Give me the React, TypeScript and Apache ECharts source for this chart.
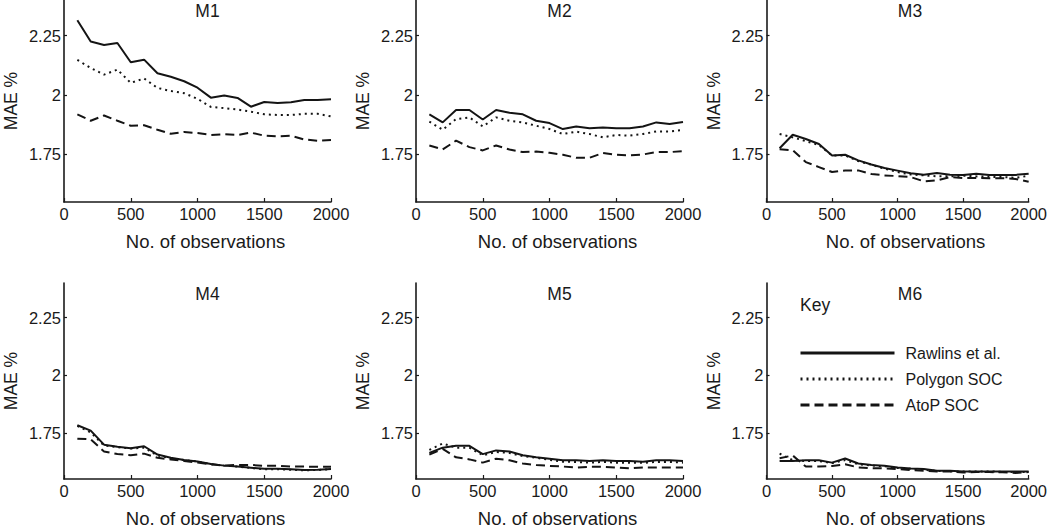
import React, { useEffect, useRef } from 'react';
import * as echarts from 'echarts';

// ---------- data ----------
const OBS = [100, 200, 300, 400, 500, 600, 700, 800, 900, 1000, 1100, 1200, 1300, 1400, 1500, 1600, 1700, 1800, 1900, 2000];
const PANELS = ['M1', 'M2', 'M3', 'M4', 'M5', 'M6'];
const SERIES_NAMES = ['Rawlins et al.', 'Polygon SOC', 'AtoP SOC'];
const Y_TICKS = [1.75, 2, 2.25];
const Y_MIN = 1.55;
const Y_MAX = 2.4;
const X_MIN = 0;
const X_MAX = 2000;
const X_STEP = 500;

const M1_RAWLINS = [2.315, 2.225, 2.211, 2.219, 2.138, 2.149, 2.092, 2.077, 2.058, 2.031, 1.989, 1.998, 1.988, 1.951, 1.971, 1.967, 1.970, 1.979, 1.979, 1.982];
const M1_POLYGON = [2.148, 2.114, 2.086, 2.107, 2.051, 2.070, 2.030, 2.017, 2.008, 1.984, 1.950, 1.945, 1.939, 1.930, 1.919, 1.916, 1.916, 1.921, 1.921, 1.910];
const M1_ATOP = [1.919, 1.892, 1.914, 1.892, 1.871, 1.873, 1.854, 1.837, 1.845, 1.840, 1.832, 1.835, 1.832, 1.842, 1.829, 1.826, 1.829, 1.813, 1.808, 1.811];

const M2_RAWLINS = [1.919, 1.885, 1.937, 1.937, 1.897, 1.937, 1.926, 1.919, 1.892, 1.882, 1.857, 1.868, 1.860, 1.864, 1.860, 1.860, 1.868, 1.885, 1.878, 1.887];
const M2_POLYGON = [1.888, 1.854, 1.899, 1.906, 1.868, 1.906, 1.892, 1.885, 1.871, 1.857, 1.836, 1.846, 1.836, 1.822, 1.832, 1.829, 1.836, 1.847, 1.847, 1.853];
const M2_ATOP = [1.788, 1.771, 1.808, 1.781, 1.767, 1.788, 1.771, 1.760, 1.762, 1.757, 1.749, 1.736, 1.736, 1.756, 1.749, 1.746, 1.750, 1.760, 1.760, 1.764];

const M3_RAWLINS = [1.776, 1.833, 1.815, 1.794, 1.746, 1.749, 1.725, 1.708, 1.693, 1.682, 1.671, 1.665, 1.672, 1.665, 1.664, 1.669, 1.664, 1.664, 1.664, 1.669];
const M3_POLYGON = [1.836, 1.822, 1.806, 1.790, 1.746, 1.746, 1.722, 1.707, 1.690, 1.676, 1.666, 1.662, 1.658, 1.658, 1.661, 1.658, 1.656, 1.655, 1.652, 1.660];
const M3_ATOP = [1.772, 1.768, 1.718, 1.697, 1.676, 1.683, 1.683, 1.668, 1.662, 1.659, 1.655, 1.637, 1.641, 1.655, 1.651, 1.651, 1.650, 1.650, 1.647, 1.635];

const M4_RAWLINS = [1.783, 1.760, 1.699, 1.690, 1.683, 1.692, 1.656, 1.642, 1.632, 1.626, 1.615, 1.608, 1.604, 1.599, 1.594, 1.594, 1.592, 1.589, 1.590, 1.593];
const M4_POLYGON = [1.780, 1.752, 1.695, 1.688, 1.682, 1.686, 1.652, 1.640, 1.632, 1.626, 1.614, 1.608, 1.604, 1.598, 1.592, 1.592, 1.590, 1.588, 1.589, 1.592];
const M4_ATOP = [1.725, 1.722, 1.669, 1.658, 1.653, 1.660, 1.642, 1.635, 1.628, 1.621, 1.614, 1.608, 1.611, 1.611, 1.607, 1.607, 1.604, 1.604, 1.603, 1.603];

const M5_RAWLINS = [1.663, 1.686, 1.694, 1.694, 1.658, 1.674, 1.669, 1.653, 1.644, 1.638, 1.631, 1.631, 1.628, 1.631, 1.628, 1.628, 1.625, 1.631, 1.631, 1.628];
const M5_POLYGON = [1.676, 1.704, 1.686, 1.686, 1.653, 1.667, 1.663, 1.649, 1.642, 1.633, 1.625, 1.624, 1.621, 1.624, 1.621, 1.621, 1.620, 1.624, 1.624, 1.621];
const M5_ATOP = [1.656, 1.681, 1.644, 1.635, 1.621, 1.638, 1.631, 1.617, 1.611, 1.607, 1.604, 1.600, 1.603, 1.603, 1.600, 1.596, 1.600, 1.600, 1.600, 1.600];

const M6_RAWLINS = [1.628, 1.628, 1.631, 1.631, 1.621, 1.639, 1.617, 1.611, 1.607, 1.600, 1.596, 1.593, 1.586, 1.586, 1.583, 1.583, 1.583, 1.582, 1.583, 1.583];
const M6_POLYGON = [1.660, 1.632, 1.628, 1.628, 1.619, 1.632, 1.614, 1.609, 1.605, 1.598, 1.594, 1.590, 1.585, 1.584, 1.582, 1.582, 1.583, 1.581, 1.580, 1.581];
const M6_ATOP = [1.640, 1.652, 1.604, 1.604, 1.606, 1.614, 1.600, 1.597, 1.596, 1.593, 1.589, 1.586, 1.583, 1.582, 1.578, 1.580, 1.580, 1.579, 1.576, 1.580];

const PANEL_DATA = [
  [M1_RAWLINS, M1_POLYGON, M1_ATOP],
  [M2_RAWLINS, M2_POLYGON, M2_ATOP],
  [M3_RAWLINS, M3_POLYGON, M3_ATOP],
  [M4_RAWLINS, M4_POLYGON, M4_ATOP],
  [M5_RAWLINS, M5_POLYGON, M5_ATOP],
  [M6_RAWLINS, M6_POLYGON, M6_ATOP],
];

// ---------- layout / style ----------
const FONT = "'Liberation Sans', Arial, Helvetica, sans-serif";
const INK = '#1a1a1a';
const COL_LEFT = [64, 416, 766.5];
const ROW_TOP = [0, 283];
const PLOT_W = 267;
const PLOT_H = 202;
const LINE_TYPES: any[] = ['solid', [2, 4], [9, 5]];

function buildOption() {
  const grid: any[] = [];
  const xAxis: any[] = [];
  const yAxis: any[] = [];
  const series: any[] = [];
  const graphic: any[] = [];

  PANELS.forEach((title, i) => {
    const col = i % 3;
    const row = Math.floor(i / 3);
    const left = COL_LEFT[col];
    const top = ROW_TOP[row];
    grid.push({ left, top, width: PLOT_W, height: PLOT_H, containLabel: false });
    xAxis.push({
      type: 'value',
      gridIndex: i,
      min: X_MIN,
      max: X_MAX,
      interval: X_STEP,
      name: 'No. of observations',
      nameLocation: 'middle',
      nameGap: 30,
      nameTextStyle: { fontSize: 18.5, color: INK, fontFamily: FONT, padding: [0, 0, 0, 16] },
      axisLine: { show: true, onZero: false, lineStyle: { color: INK, width: 1.6 } },
      axisTick: { show: true, inside: true, length: 4, lineStyle: { color: INK, width: 1.2 } },
      axisLabel: {
        fontSize: 16.5,
        color: INK,
        fontFamily: FONT,
        margin: 3,
        formatter: (v: number) => String(Math.round(Number(v))),
      },
      splitLine: { show: false },
    });
    yAxis.push({
      type: 'value',
      gridIndex: i,
      min: Y_MIN,
      max: Y_MAX,
      name: 'MAE %',
      nameLocation: 'middle',
      nameGap: 44,
      nameRotate: 90,
      nameTextStyle: { fontSize: 17.5, color: INK, fontFamily: FONT },
      axisLine: { show: true, onZero: false, lineStyle: { color: INK, width: 1.6 } },
      axisTick: { show: true, inside: true, length: 3, customValues: Y_TICKS, lineStyle: { color: INK, width: 1.2 } },
      axisLabel: {
        customValues: Y_TICKS,
        fontSize: 16.5,
        color: INK,
        fontFamily: FONT,
        margin: 3,
        formatter: (v: number) => String(+Number(v).toFixed(2)),
      },
      splitLine: { show: false },
    });
    PANEL_DATA[i].forEach((vals, k) => {
      series.push({
        type: 'line',
        name: SERIES_NAMES[k],
        xAxisIndex: i,
        yAxisIndex: i,
        data: OBS.map((x, j) => [x, vals[j]]),
        symbol: 'none',
        silent: true,
        lineStyle: { color: '#141414', width: 2, type: LINE_TYPES[k] },
        itemStyle: { color: '#141414' },
      });
    });
    graphic.push({
      type: 'text',
      x: left + PLOT_W / 2 + 10,
      y: top + 11,
      style: { text: title, font: `17.5px ${FONT}`, fill: INK, align: 'center', verticalAlign: 'middle' },
    });
  });

  graphic.push({
    type: 'text',
    x: 800,
    y: 305,
    style: { text: 'Key', font: `17.5px ${FONT}`, fill: INK, align: 'left', verticalAlign: 'middle' },
  });

  return {
    animation: false,
    backgroundColor: '#ffffff',
    grid,
    xAxis,
    yAxis,
    series,
    graphic,
    legend: {
      show: true,
      data: SERIES_NAMES,
      orient: 'vertical',
      left: 799,
      top: 345,
      padding: 0,
      itemWidth: 94,
      itemHeight: 16,
      itemGap: 10,
      selectedMode: false,
      textStyle: { fontSize: 16, color: INK, fontFamily: FONT, padding: [0, 0, 0, 6] },
      itemStyle: { opacity: 0 },
      lineStyle: { width: 3 },
    },
  };
}

export default function App() {
  const ref = useRef<HTMLDivElement>(null);
  useEffect(() => {
    if (!ref.current) return;
    const chart = echarts.init(ref.current, undefined, { renderer: 'svg' });
    chart.setOption(buildOption() as any);
    return () => chart.dispose();
  }, []);
  return (
    <div
      ref={ref}
      style={{ position: 'absolute', left: 0, top: 0, width: 1050, height: 529, background: '#fff' }}
    />
  );
}
